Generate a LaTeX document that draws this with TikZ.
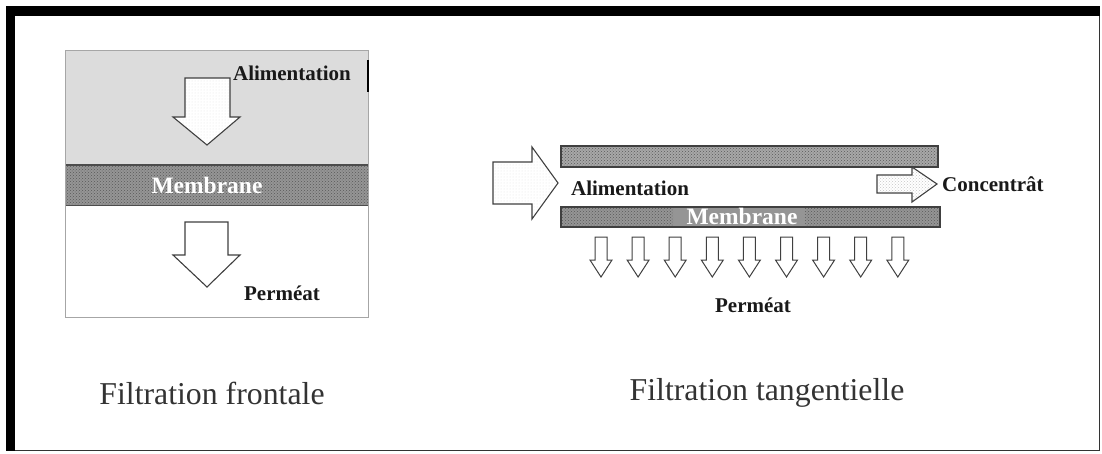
\documentclass[tikz,border=0pt]{standalone}
\usepackage{fontspec}
\setmainfont{Liberation Serif}
\usetikzlibrary{patterns}
\definecolor{capgray}{HTML}{333333}
\definecolor{areagray}{HTML}{DCDCDC}
\definecolor{membgray}{HTML}{959595}
\definecolor{bargray}{HTML}{A8A8A8}
\tikzset{
  lbl/.style={inner sep=0pt, font=\fontsize{21}{24}\selectfont\bfseries, text=black!90},
  wlbl/.style={inner sep=0pt, font=\fontsize{23.5}{26}\selectfont\bfseries, text=white},
  captext/.style={inner sep=0pt, font=\fontsize{31.8}{36}\selectfont, text=capgray},
  arrowshape/.style={draw=black!75, line width=1.1pt, fill=white},
  dotsfill/.style={pattern=dots, pattern color=gray!22},
  memb/.style={fill=membgray},
  membtex/.style={pattern=crosshatch dots, pattern color=gray!70!black},
}
\begin{document}
\begin{tikzpicture}[x=1pt,y=-1pt]
\useasboundingbox (0,0) rectangle (1102,453);
\fill[white] (0,0) rectangle (1102,453);
% frame
\fill[black] (6,6) rectangle (1100,16);
\fill[black] (6,6) rectangle (15,451);
\draw[black!80, line width=0.8pt] (1099,16) -- (1099,450) -- (15,450);

% ---------- left panel: frontal filtration ----------
\fill[areagray] (65,50) rectangle (368,165);
\fill[memb] (65,165) rectangle (368,205);
\fill[membtex] (65,165) rectangle (368,205);
\draw[black!70, line width=1.2pt] (65,165) -- (368,165);
\draw[black!70, line width=1pt] (65,205) -- (368,205);
\draw[gray!70, line width=0.9pt] (65,50) rectangle (368,317);
\draw[black, line width=2pt] (368,60) -- (368,92);

\draw[arrowshape] (185,78) -- (230,78) -- (230,117) -- (240,117) -- (207,145) -- (173,117) -- (185,117) -- cycle;
\fill[dotsfill] (186,79) -- (229,79) -- (229,118) -- (237,118) -- (207,143) -- (176,118) -- (186,118) -- cycle;
\draw[arrowshape] (185,222) -- (228,222) -- (228,255) -- (240,255) -- (207,287) -- (173,255) -- (185,255) -- cycle;

\node[lbl] (alimL) at (292,73) {Alimentation};
\node[wlbl] (membL) at (207,185) {Membrane};
\node[lbl] (permL) at (282,293) {Perméat};
\node[captext] (capL) at (212,393) {Filtration frontale};

% ---------- right panel: tangential filtration ----------
\fill[bargray] (561,146) rectangle (938,167);
\fill[membtex] (561,146) rectangle (938,167);
\draw[black!75, line width=1.1pt] (561,146) rectangle (938,167);
\fill[memb] (561,207) rectangle (940,227);
\fill[membtex] (561,207) rectangle (673,227);
\fill[membtex] (805,207) rectangle (940,227);
\draw[black!75, line width=1.1pt] (561,207) rectangle (940,227);

\draw[arrowshape] (493,162) -- (532,162) -- (532,147) -- (558,183) -- (532,219) -- (532,204) -- (493,204) -- cycle;
\fill[dotsfill] (494,163) -- (533,163) -- (533,150) -- (556,183) -- (533,216) -- (533,203) -- (494,203) -- cycle;
\draw[arrowshape] (877,175) -- (912,175) -- (912,167) -- (937,184) -- (912,202) -- (912,193) -- (877,193) -- cycle;
\fill[pattern=crosshatch dots, pattern color=gray!45] (878,176) -- (913,176) -- (913,169) -- (935,184) -- (913,200) -- (913,192) -- (878,192) -- cycle;

\foreach \i in {0,...,8}{
  \pgfmathsetmacro{\cx}{601+37.1*\i}
  \draw[arrowshape, line width=1pt] (\cx-6,237) -- (\cx+6,237) -- (\cx+6,260) -- (\cx+11,260) -- (\cx,277) -- (\cx-11,260) -- (\cx-6,260) -- cycle;
}

\node[lbl] (alimR) at (630,188) {Alimentation};
\node[wlbl] (membR) at (742,216) {Membrane};
\node[lbl, anchor=west] (concR) at (942,184) {Concentrât};
\node[lbl] (permR) at (753,305) {Perméat};
\node[captext] (capR) at (767,393) {Filtration tangentielle};
\end{tikzpicture}
\end{document}
